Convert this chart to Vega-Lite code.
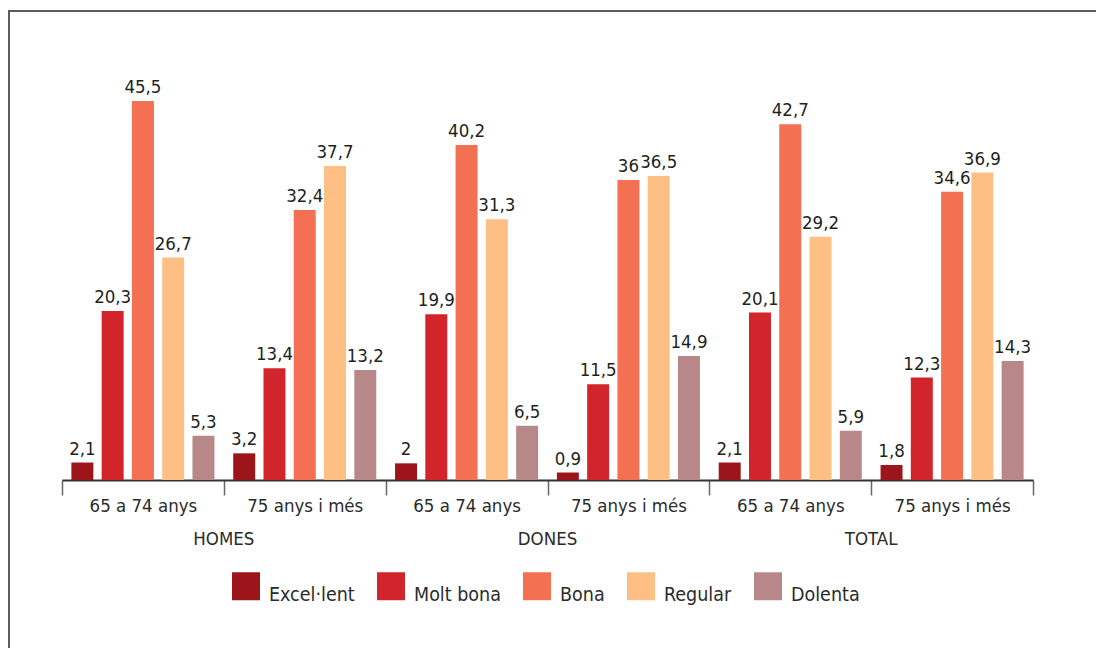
{
  "$schema": "https://vega.github.io/schema/vega-lite/v6.json",
  "width": 1100,
  "height": 650,
  "autosize": {"type": "none"},
  "padding": {"left": 9, "top": 11, "right": 0, "bottom": 0},
  "background": "white",
  "config": {
    "locale": {"number": {"decimal": ",", "thousands": ".", "grouping": [3], "currency": ["", " €"]}},
    "view": {"stroke": "#5b5b5b", "strokeWidth": 2},
    "font": "DejaVu Sans Condensed, DejaVu Sans",
    "axis": {"labelFont": "DejaVu Sans Condensed, DejaVu Sans", "labelColor": "#2b2b2b", "labelFontSize": 18.5, "grid": false}
  },
  "data": {
    "values": [
      {"sexe": "HOMES", "grup": "HOMES|65 a 74 anys", "estat": "Excel·lent", "valor": 2.1},
      {"sexe": "HOMES", "grup": "HOMES|65 a 74 anys", "estat": "Molt bona", "valor": 20.3},
      {"sexe": "HOMES", "grup": "HOMES|65 a 74 anys", "estat": "Bona", "valor": 45.5},
      {"sexe": "HOMES", "grup": "HOMES|65 a 74 anys", "estat": "Regular", "valor": 26.7},
      {"sexe": "HOMES", "grup": "HOMES|65 a 74 anys", "estat": "Dolenta", "valor": 5.3},
      {"sexe": "HOMES", "grup": "HOMES|75 anys i més", "estat": "Excel·lent", "valor": 3.2},
      {"sexe": "HOMES", "grup": "HOMES|75 anys i més", "estat": "Molt bona", "valor": 13.4},
      {"sexe": "HOMES", "grup": "HOMES|75 anys i més", "estat": "Bona", "valor": 32.4},
      {"sexe": "HOMES", "grup": "HOMES|75 anys i més", "estat": "Regular", "valor": 37.7},
      {"sexe": "HOMES", "grup": "HOMES|75 anys i més", "estat": "Dolenta", "valor": 13.2},
      {"sexe": "DONES", "grup": "DONES|65 a 74 anys", "estat": "Excel·lent", "valor": 2},
      {"sexe": "DONES", "grup": "DONES|65 a 74 anys", "estat": "Molt bona", "valor": 19.9},
      {"sexe": "DONES", "grup": "DONES|65 a 74 anys", "estat": "Bona", "valor": 40.2},
      {"sexe": "DONES", "grup": "DONES|65 a 74 anys", "estat": "Regular", "valor": 31.3},
      {"sexe": "DONES", "grup": "DONES|65 a 74 anys", "estat": "Dolenta", "valor": 6.5},
      {"sexe": "DONES", "grup": "DONES|75 anys i més", "estat": "Excel·lent", "valor": 0.9},
      {"sexe": "DONES", "grup": "DONES|75 anys i més", "estat": "Molt bona", "valor": 11.5},
      {"sexe": "DONES", "grup": "DONES|75 anys i més", "estat": "Bona", "valor": 36},
      {"sexe": "DONES", "grup": "DONES|75 anys i més", "estat": "Regular", "valor": 36.5},
      {"sexe": "DONES", "grup": "DONES|75 anys i més", "estat": "Dolenta", "valor": 14.9},
      {"sexe": "TOTAL", "grup": "TOTAL|65 a 74 anys", "estat": "Excel·lent", "valor": 2.1},
      {"sexe": "TOTAL", "grup": "TOTAL|65 a 74 anys", "estat": "Molt bona", "valor": 20.1},
      {"sexe": "TOTAL", "grup": "TOTAL|65 a 74 anys", "estat": "Bona", "valor": 42.7},
      {"sexe": "TOTAL", "grup": "TOTAL|65 a 74 anys", "estat": "Regular", "valor": 29.2},
      {"sexe": "TOTAL", "grup": "TOTAL|65 a 74 anys", "estat": "Dolenta", "valor": 5.9},
      {"sexe": "TOTAL", "grup": "TOTAL|75 anys i més", "estat": "Excel·lent", "valor": 1.8},
      {"sexe": "TOTAL", "grup": "TOTAL|75 anys i més", "estat": "Molt bona", "valor": 12.3},
      {"sexe": "TOTAL", "grup": "TOTAL|75 anys i més", "estat": "Bona", "valor": 34.6},
      {"sexe": "TOTAL", "grup": "TOTAL|75 anys i més", "estat": "Regular", "valor": 36.9},
      {"sexe": "TOTAL", "grup": "TOTAL|75 anys i més", "estat": "Dolenta", "valor": 14.3}
    ]
  },
  "layer": [
    {
      "encoding": {
        "x": {
          "field": "grup",
          "type": "nominal",
          "sort": null,
          "scale": {"type": "band", "range": [53, 1024], "paddingInner": 0, "paddingOuter": 0},
          "axis": {
            "orient": "bottom",
            "offset": -181,
            "title": null,
            "labelAngle": 0,
            "labelExpr": "split(datum.label, '|')[1]",
            "tickBand": "extent",
            "tickSize": 15,
            "tickColor": "#666666",
            "tickWidth": 1.5,
            "domainColor": "#333333",
            "domainWidth": 2,
            "labelPadding": 1
          }
        },
        "xOffset": {
          "field": "estat",
          "type": "nominal",
          "sort": ["Excel·lent", "Molt bona", "Bona", "Regular", "Dolenta"],
          "scale": {"paddingInner": 0.274, "paddingOuter": 0.31}
        },
        "y": {
          "field": "valor",
          "type": "quantitative",
          "scale": {"domain": [0, 56.3], "range": [469, 0], "nice": false, "zero": true},
          "axis": null
        }
      },
      "layer": [
        {
          "mark": {"type": "bar", "strokeWidth": 0},
          "encoding": {
            "color": {
              "field": "estat",
              "type": "nominal",
              "scale": {
                "domain": ["Excel·lent", "Molt bona", "Bona", "Regular", "Dolenta"],
                "range": ["#9c151b", "#d2242b", "#f37052", "#fdbf84", "#b88888"]
              },
              "legend": {
                "orient": "none",
                "legendX": 223,
                "legendY": 561,
                "direction": "horizontal",
                "title": null,
                "symbolType": "square",
                "symbolSize": 784,
                "symbolStrokeWidth": 0,
                "symbolOpacity": 1,
                "labelFont": "DejaVu Sans Condensed, DejaVu Sans",
                "labelFontSize": 19.5,
                "labelColor": "#2b2b2b",
                "labelOffset": 9,
                "labelBaseline": "top",
                "columnPadding": 22
              }
            }
          }
        },
        {
          "mark": {"type": "text", "baseline": "alphabetic", "dy": -8, "fontSize": 18.5, "font": "DejaVu Sans Condensed, DejaVu Sans", "color": "#231f20"},
          "encoding": {
            "text": {"field": "valor", "type": "quantitative", "format": ".1~f"}
          }
        }
      ]
    },
    {
      "mark": {"type": "point", "opacity": 0},
      "encoding": {
        "x": {
          "field": "sexe",
          "type": "nominal",
          "sort": ["HOMES", "DONES", "TOTAL"],
          "scale": {"type": "band", "range": [53, 1024], "paddingInner": 0, "paddingOuter": 0},
          "axis": {
            "orient": "bottom",
            "offset": -181,
            "title": null,
            "labelAngle": 0,
            "domain": false,
            "ticks": false,
            "tickSize": 0,
            "labelPadding": 49
          }
        }
      }
    }
  ],
  "resolve": {"scale": {"x": "independent"}, "axis": {"x": "independent"}}
}
